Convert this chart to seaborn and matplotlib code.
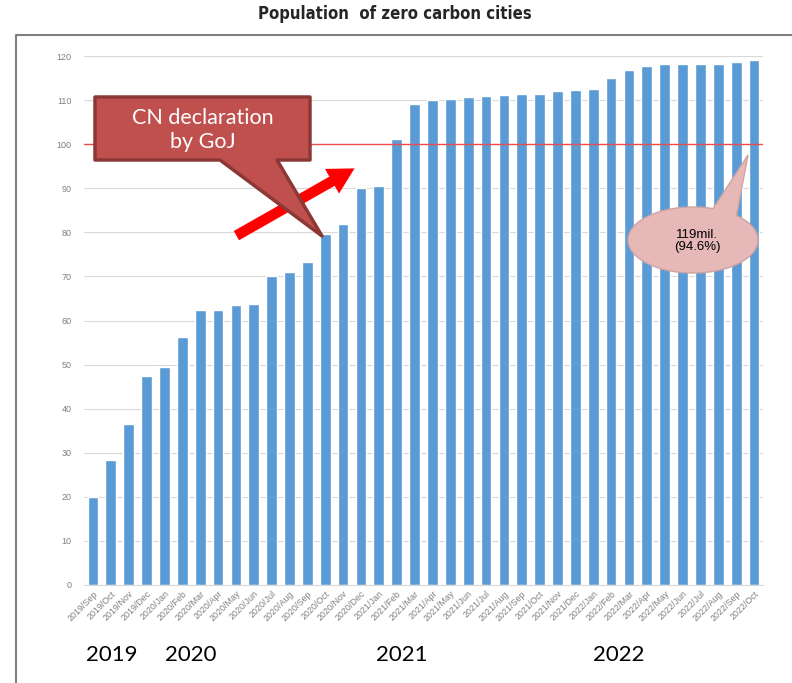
import matplotlib
matplotlib.use("Agg")
import matplotlib.pyplot as plt
import matplotlib.transforms as mtransforms
from matplotlib.patches import Polygon, FancyArrowPatch
from matplotlib.lines import Line2D
import seaborn as sns
import pandas as pd
import numpy as np

# ---------------- data ----------------
months = [
    "2019/Sep", "2019/Oct", "2019/Nov", "2019/Dec",
    "2020/Jan", "2020/Feb", "2020/Mar", "2020/Apr", "2020/May", "2020/Jun",
    "2020/Jul", "2020/Aug", "2020/Sep", "2020/Oct", "2020/Nov", "2020/Dec",
    "2021/Jan", "2021/Feb", "2021/Mar", "2021/Apr", "2021/May", "2021/Jun",
    "2021/Jul", "2021/Aug", "2021/Sep", "2021/Oct", "2021/Nov", "2021/Dec",
    "2022/Jan", "2022/Feb", "2022/Mar", "2022/Apr", "2022/May", "2022/Jun",
    "2022/Jul", "2022/Aug", "2022/Sep", "2022/Oct",
]
population = [
    20.0, 28.3, 36.6, 47.4,
    49.5, 56.2, 62.3, 62.3, 63.5, 63.7,
    70.0, 71.1, 73.2, 79.7, 82.0, 90.1,
    90.5, 101.1, 109.2, 110.0, 110.2, 110.8,
    111.0, 111.1, 111.3, 111.4, 112.0, 112.2,
    112.6, 114.9, 116.8, 117.8, 118.2, 118.2,
    118.2, 118.2, 118.7, 119.1,
]
target_line = 100
year_labels = ["2019", "2020", "2021", "2022"]
title = "Population  of zero carbon cities"
callout_text = "CN declaration\nby GoJ"
bubble_text = "119mil.\n(94.6%)"

# ---------------- figure ----------------
sns.set_style("white")
plt.rcParams["font.family"] = ["Liberation Sans", "DejaVu Sans"]

W, H = 792, 683
fig = plt.figure(figsize=(W / 100, H / 100), dpi=100)
fig.patch.set_facecolor("white")
# transform for pixel coords with origin top-left
pix = mtransforms.Affine2D().scale(1 / W, -1 / H).translate(0, 1) + fig.transFigure

def fx(p):
    return p / W

def fy(p):
    return 1 - p / H

ax = fig.add_axes([fx(84), fy(585), fx(763) - fx(84), fy(56) - fy(585)])

df = pd.DataFrame({"month": months, "population": population})
sns.barplot(data=df, x="month", y="population", color="#5B9BD5",
            saturation=1, width=0.6, ax=ax)

ax.set_ylim(0, 120)
ax.set_xlim(-0.5, len(months) - 0.5)
ax.set_yticks(range(0, 121, 10))
ax.yaxis.grid(True, color="#D9D9D9", lw=0.8)
ax.set_axisbelow(True)
for s in ["top", "right", "left"]:
    ax.spines[s].set_visible(False)
ax.spines["bottom"].set_color("#D9D9D9")
ax.spines["bottom"].set_linewidth(0.8)
ax.set_xlabel("")
ax.set_ylabel("")
ax.tick_params(axis="y", length=0, labelsize=6.5, labelcolor="#7F7F7F", pad=9)
ax.tick_params(axis="x", length=0, labelsize=6.4, labelcolor="#7F7F7F", pad=3)
ax.set_xticks(range(len(months)))
ax.set_xticklabels(months, rotation=45, ha="right", rotation_mode="anchor")

ax.axhline(target_line, color="#EE4B4B", lw=1.0, zorder=3)

# year labels under the ticks
blend = mtransforms.blended_transform_factory(ax.transData, pix)
for lbl, xpos in zip(year_labels, [1.05, 5.5, 17.3, 29.4]):
    ax.text(xpos, 655, lbl, transform=blend, ha="center", va="center",
            fontsize=16, family=["Lato", "DejaVu Sans"], color="black")

# title
fig.text(fx(395), fy(14), title, ha="center", va="center", fontsize=12,
         fontweight="bold", fontstretch="condensed",
         family=["DejaVu Sans"])

# outer frame (left and top lines)
fig.lines.append(Line2D([16, 16, 792], [683, 35, 35], transform=pix,
                        color="#7F7F7F", lw=1.5))

# red trend arrow
arr = FancyArrowPatch((234, 237), (357, 167), transform=pix,
                      arrowstyle="simple,head_length=1.1,head_width=1.2,tail_width=0.45",
                      mutation_scale=17, color="#FF0000", lw=0, zorder=5)
fig.patches.append(arr)

# CN declaration callout
cn_pts = [(95, 97), (310, 97), (310, 160), (277, 160), (322, 236),
          (220, 160), (95, 160)]
cn = Polygon(cn_pts, closed=True, transform=pix, facecolor="#C0504D",
             edgecolor="#8C3836", lw=2.5, joinstyle="round", zorder=6)
fig.patches.append(cn)
fig.text(fx(203), fy(130), callout_text, ha="center", va="center",
         fontsize=15.5, color="white", linespacing=1.3,
         family=["Lato", "DejaVu Sans"], zorder=7)

# ellipse bubble callout
cx, cy, a, b = 693, 240, 65, 33
t = np.deg2rad(np.linspace(72, 408, 200))
pts = [(cx + a * np.cos(tt), cy - b * np.sin(tt)) for tt in t]
pts.append((748, 155))
bub = Polygon(pts, closed=True, transform=pix, facecolor="#E6B9B8",
              edgecolor="#CFA3A2", lw=1.0, zorder=6)
fig.patches.append(bub)
fig.text(fx(697), fy(241), bubble_text, ha="center", va="center",
         fontsize=9.5, color="black", linespacing=1.05, zorder=7)

fig.savefig("out.png", dpi=100)
